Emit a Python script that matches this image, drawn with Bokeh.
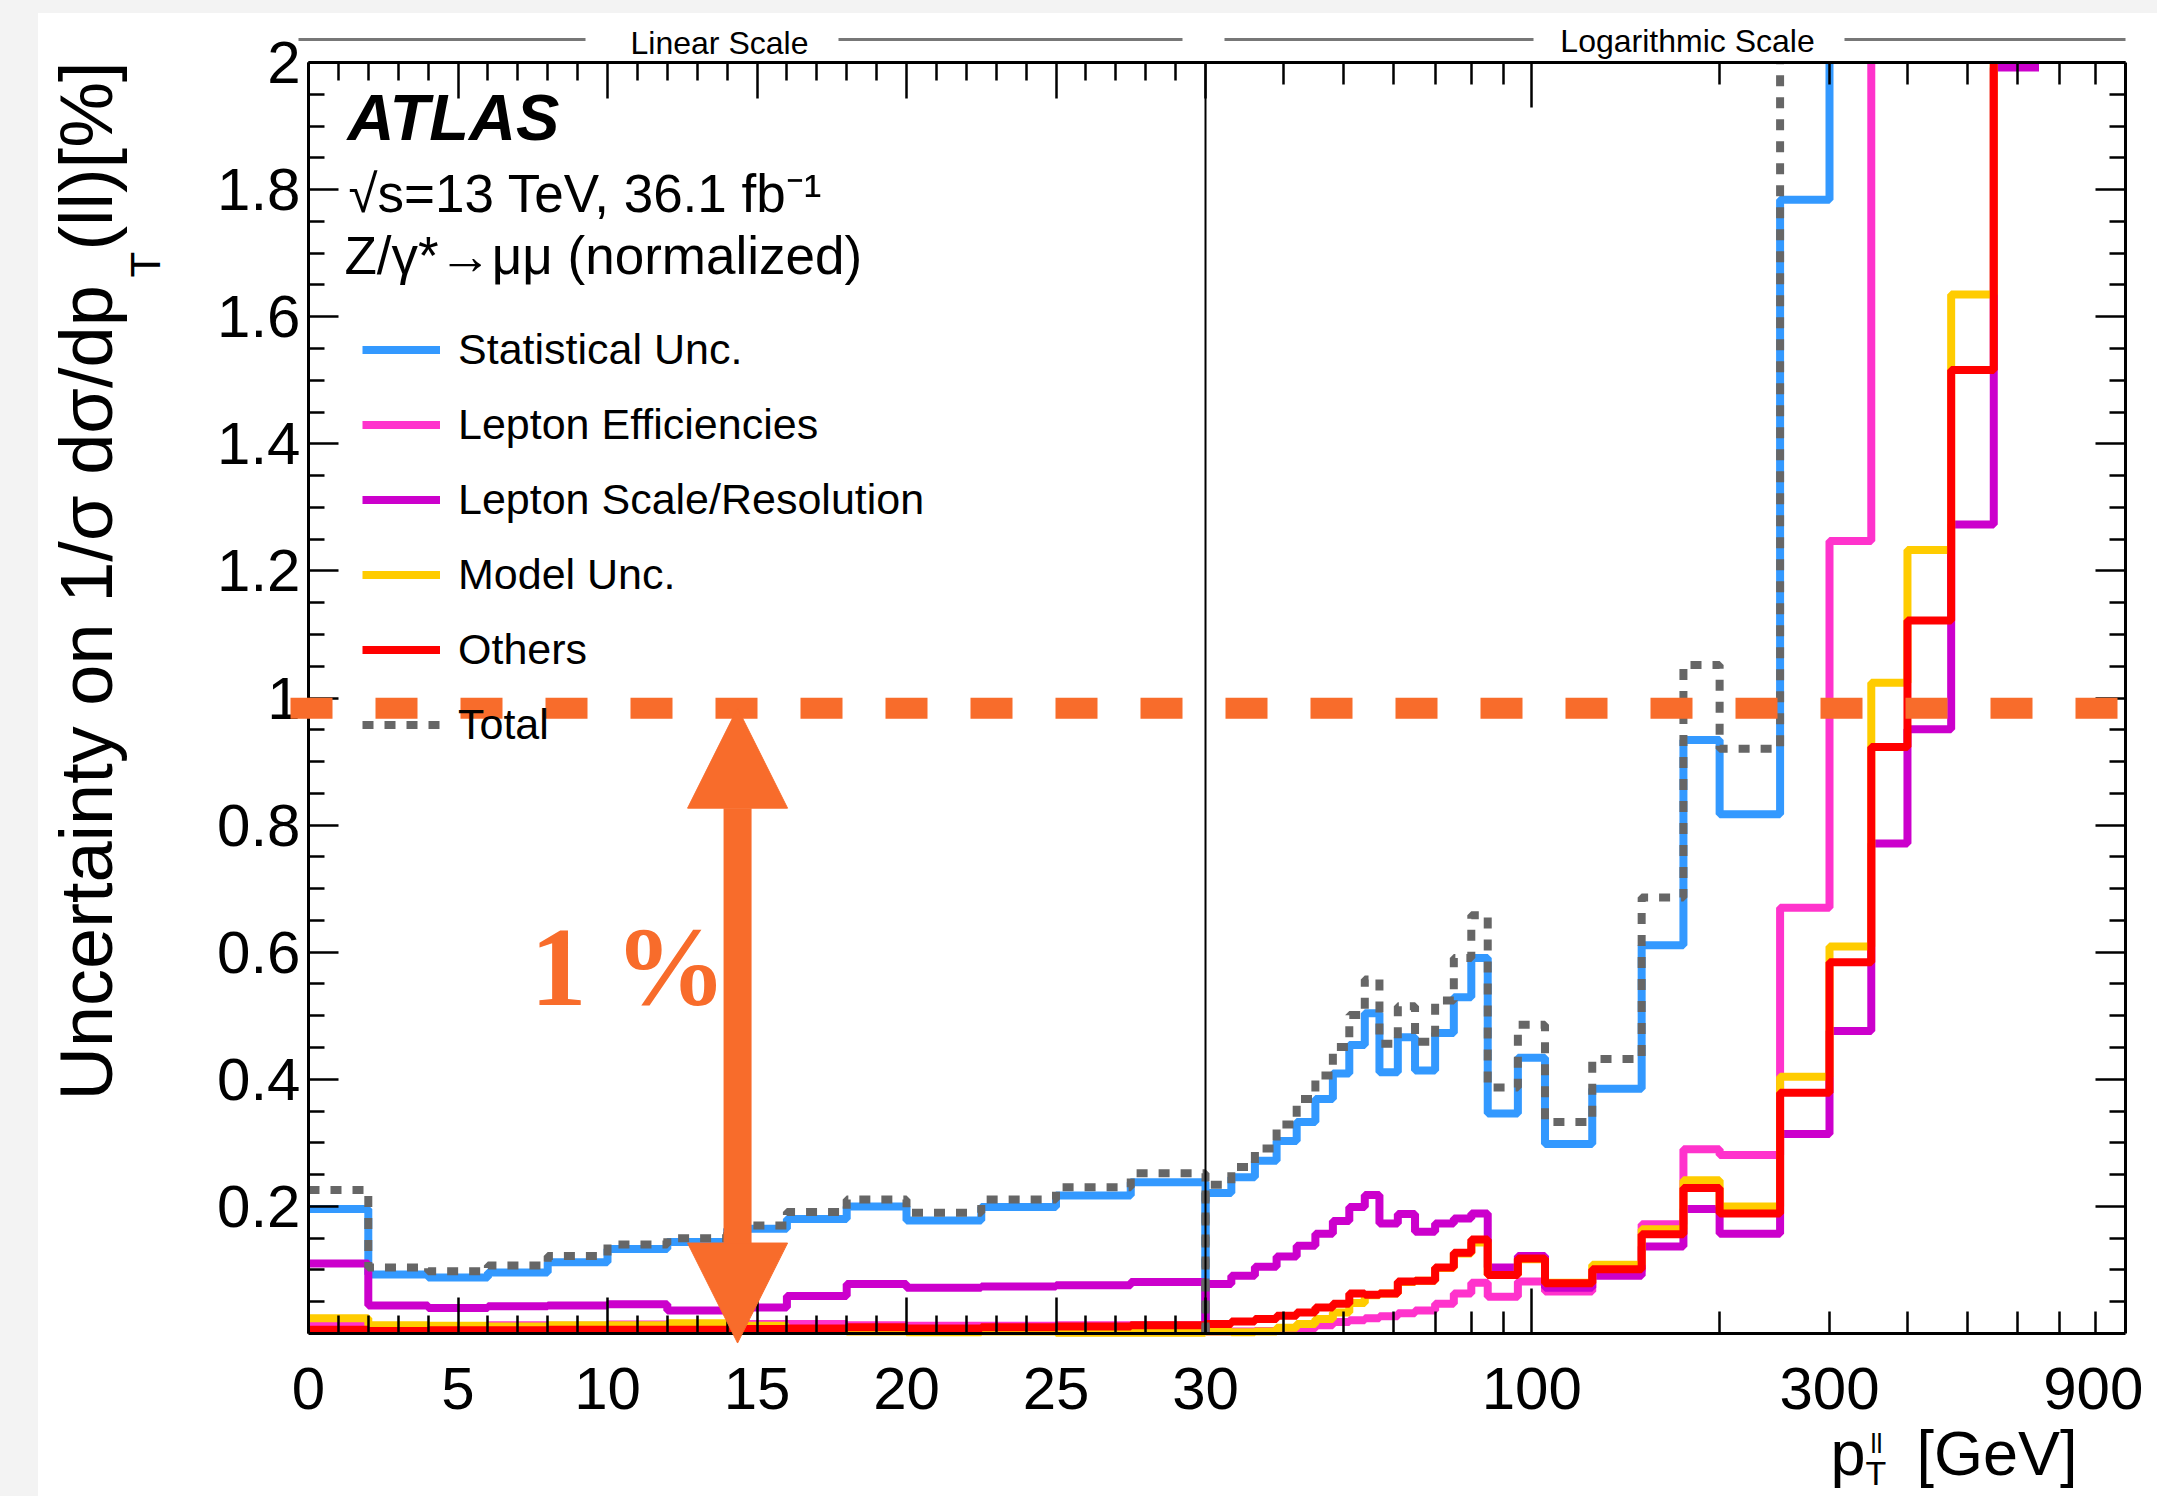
import math
from bokeh.plotting import figure
from bokeh.layouts import row, column
from bokeh.models import (Range1d, LinearAxis, LogAxis, LogScale, FixedTicker, Label,
                          Legend, LegendItem, Arrow, NormalHead, CustomJSTickFormatter,
                          BasicTickFormatter, Spacer)
from bokeh.embed import file_html
from bokeh.resources import INLINE

# ---------------- data (uncertainties in %) ----------------
lin_edges = [0, 2, 4, 6, 8, 10, 12, 14, 16, 18, 20, 22.5, 25, 27.5, 30]
log_edges = [30, 33, 36, 39, 42, 45, 48, 51, 54, 57, 61, 65, 70, 75, 80, 85, 95, 105,
             125, 150, 175, 200, 250, 300, 350, 400, 470, 550, 650]

stat_lin = [0.196, 0.093, 0.088, 0.096, 0.112, 0.133, 0.144, 0.165, 0.180, 0.200, 0.178, 0.199, 0.217, 0.238]
stat_log = [0.221, 0.246, 0.272, 0.303, 0.333, 0.369, 0.409, 0.454, 0.504, 0.411, 0.466, 0.414, 0.473, 0.529,
            0.591, 0.346, 0.434, 0.298, 0.385, 0.611, 0.934, 0.817, 1.784, 2.5, 3.1, 3.6, 4.6, 6.0]

eff_lin = [0.015, 0.011, 0.010, 0.013, 0.012, 0.014, 0.013, 0.015, 0.015, 0.013, 0.012, 0.012, 0.013, 0.013]
eff_log = [0.003, 0.003, 0.004, 0.005, 0.008, 0.013, 0.018, 0.021, 0.024, 0.027, 0.032, 0.036, 0.047, 0.063,
           0.080, 0.058, 0.082, 0.066, 0.098, 0.172, 0.290, 0.281, 0.670, 1.247, 2.3, 2.8, 3.4, 4.2]

scale_lin = [0.110, 0.044, 0.040, 0.043, 0.044, 0.046, 0.036, 0.041, 0.059, 0.078, 0.072, 0.074, 0.076, 0.081]
scale_log = [0.078, 0.091, 0.105, 0.121, 0.138, 0.157, 0.177, 0.199, 0.218, 0.173, 0.188, 0.160, 0.173, 0.181,
             0.189, 0.104, 0.122, 0.072, 0.091, 0.137, 0.196, 0.157, 0.314, 0.476, 0.771, 0.951, 1.273, 1.992]

model_lin = [0.024, 0.013, 0.012, 0.011, 0.013, 0.013, 0.016, 0.012, 0.007, 0.003, 0.002, 0.003, 0.001, 0.001]
model_log = [0.003, 0.002, 0.003, 0.009, 0.015, 0.023, 0.033, 0.048, 0.060, 0.063, 0.081, 0.083, 0.103, 0.126,
             0.143, 0.092, 0.117, 0.080, 0.108, 0.164, 0.241, 0.200, 0.404, 0.609, 1.024, 1.233, 1.635, 2.4]

other_lin = [0.006, 0.004, 0.005, 0.005, 0.006, 0.006, 0.006, 0.007, 0.008, 0.010, 0.008, 0.010, 0.011, 0.013]
other_log = [0.015, 0.019, 0.023, 0.028, 0.033, 0.041, 0.047, 0.063, 0.061, 0.063, 0.082, 0.083, 0.104, 0.127,
             0.148, 0.092, 0.118, 0.079, 0.101, 0.156, 0.229, 0.189, 0.379, 0.584, 0.923, 1.122, 1.516, 2.2]

total_lin = [0.226, 0.104, 0.098, 0.107, 0.122, 0.140, 0.150, 0.170, 0.191, 0.211, 0.190, 0.211, 0.230, 0.252]
total_log = [0.234, 0.262, 0.291, 0.329, 0.369, 0.406, 0.451, 0.501, 0.557, 0.456, 0.515, 0.459, 0.524, 0.591,
             0.658, 0.387, 0.486, 0.333, 0.432, 0.686, 1.052, 0.920, 2.1, 2.9, 3.9, 4.6, 5.8, 7.5]

series_names = ["Statistical Unc.", "Lepton Efficiencies", "Lepton Scale/Resolution",
                "Model Unc.", "Others", "Total"]

y_tick_values = [0.2, 0.4, 0.6, 0.8, 1.0, 1.2, 1.4, 1.6, 1.8, 2.0]
y_tick_labels = ["0.2", "0.4", "0.6", "0.8", "1", "1.2", "1.4", "1.6", "1.8", "2"]
lin_tick_values = [0, 5, 10, 15, 20, 25, 30]
log_label_values = [100, 300]
log_edge_label = 900
log_major_ticks = [100]
log_minor_ticks = [40, 50, 60, 70, 80, 90, 200, 300, 400, 500, 600, 700, 800]
Y_MAX = 2.0
LIN_MAX = 30.0
one_percent = 0.984   # level of the highlighted "1 %" line as drawn

# ---------------- geometry (page pixels) ----------------
PAGE_W, PAGE_H = 2157, 1496
PAD_L, PAD_T = 38, 13
FIG_W, FIG_H = PAGE_W - PAD_L, PAGE_H - PAD_T
FR_L, FR_R, FR_T, FR_B = 308, 2125, 62, 1333     # drawn frame
DIV_PX = 1205                                     # where 30 GeV sits
DECADE = 624.0                                    # pixels per decade in log part
PX_U = (DIV_PX - FR_L) / LIN_MAX
PX_V = (FR_B - FR_T) / Y_MAX
LABEL_STANDOFF = 34

def u(px):
    return (px - FR_L) / PX_U

def v(py):
    return (FR_B - py) / PX_V

u_frame_end = u(FR_R)
log_start = LIN_MAX * 10 ** ((PAD_L - DIV_PX) / DECADE)
log_end = LIN_MAX * 10 ** ((PAGE_W - DIV_PX) / DECADE)
y_draw_cap = v(PAD_T + 6)   # values beyond the canvas are drawn up to here (hidden by the mask)

FONT = "Liberation Sans"
ORANGE = "#F86C2B"
BLACK = "black"
LW = 8

p = figure(width=FIG_W, height=FIG_H, output_backend="svg", toolbar_location=None, title=None,
           x_range=Range1d(u(PAD_L), u(PAGE_W)), y_range=Range1d(v(PAGE_H), v(PAD_T)),
           x_axis_type=None, y_axis_type=None,
           min_border_left=0, min_border_right=0, min_border_top=0, min_border_bottom=0)
p.extra_x_ranges = {"log": Range1d(log_start, log_end)}
p.extra_x_scales = {"log": LogScale()}
p.outline_line_color = None
p.border_fill_color = "white"
p.background_fill_color = "white"
p.styles = {"overflow": "hidden"}

empty_fmt = CustomJSTickFormatter(code="return ''")

def style_axis(ax, tick_in, minor_in, labels, standoff=LABEL_STANDOFF, line=False):
    ax.axis_line_color = BLACK if line else None
    ax.axis_line_width = 3
    ax.major_tick_in = tick_in
    ax.major_tick_out = 0
    ax.minor_tick_in = minor_in
    ax.minor_tick_out = 0
    ax.major_tick_line_width = 2.5
    ax.minor_tick_line_width = 2.5
    ax.major_tick_line_color = BLACK
    ax.minor_tick_line_color = BLACK
    ax.major_label_text_font = FONT
    ax.major_label_text_font_size = "60px"
    ax.major_label_text_color = BLACK
    ax.major_label_standoff = standoff
    if not labels:
        ax.formatter = empty_fmt

lin_minor = [k for k in range(1, 30) if k % 5 != 0]
y_minor = [round(0.05 * k, 2) for k in range(1, 40) if k % 4 != 0]

# ---------------- histograms ----------------
series = [
    (series_names[0], stat_lin, stat_log, "#3399FF", "solid"),
    (series_names[1], eff_lin, eff_log, "#FF33CC", "solid"),
    (series_names[2], scale_lin, scale_log, "#CC00CC", "solid"),
    (series_names[3], model_lin, model_log, "#FFCC00", "solid"),
    (series_names[4], other_lin, other_log, "#FF0000", "solid"),
    (series_names[5], total_lin, total_log, "#666666", "11 11"),
]

def capped(vals):
    return [min(val, y_draw_cap) for val in vals]

legend_items = []
for name, vlin, vlog, color, dash in series:
    r1 = p.step(x=lin_edges, y=capped(vlin) + [0.0], mode="after", line_color=color,
                line_width=LW, line_dash=dash)
    p.step(x=[log_edges[0]] + log_edges, y=[0.0] + capped(vlog) + capped([vlog[-1]]), mode="after",
           line_color=color, line_width=LW, line_dash=dash, x_range_name="log")
    legend_items.append(LegendItem(label=name, renderers=[r1]))

# everything above the top of the y range is hidden, like a frame clip
p.quad(left=u(PAD_L - 20), right=u(PAGE_W + 20), bottom=Y_MAX, top=v(PAD_T - 20),
       fill_color="white", line_color=None)

# divider between linear and logarithmic parts
p.segment(x0=LIN_MAX, y0=0, x1=LIN_MAX, y1=Y_MAX, line_color=BLACK, line_width=2)

# header lines
hdr = [(298, 585), (838, 1182), (1224, 1533), (1844, 2125)]
p.segment(x0=[u(a) for a, b in hdr], x1=[u(b) for a, b in hdr], y0=[v(39)] * 4, y1=[v(39)] * 4,
          line_color="#777777", line_width=3)

# ---------------- axes ----------------
ax = LinearAxis(ticker=FixedTicker(ticks=lin_tick_values, minor_ticks=lin_minor), fixed_location=0,
                bounds=(0, u_frame_end))
style_axis(ax, 36, 18, True, line=True)
p.add_layout(ax, "below")
ax = LogAxis(x_range_name="log", ticker=FixedTicker(ticks=log_major_ticks, minor_ticks=log_minor_ticks),
             fixed_location=0)
style_axis(ax, 45, 22, False)
p.add_layout(ax, "below")
ax = LogAxis(x_range_name="log", ticker=FixedTicker(ticks=log_label_values), fixed_location=0,
             formatter=BasicTickFormatter())
style_axis(ax, 0, 0, True)
p.add_layout(ax, "below")

ax = LinearAxis(ticker=FixedTicker(ticks=lin_tick_values, minor_ticks=lin_minor), fixed_location=Y_MAX,
                bounds=(0, u_frame_end))
style_axis(ax, 36, 18, False, line=True)
p.add_layout(ax, "above")
ax = LogAxis(x_range_name="log", ticker=FixedTicker(ticks=log_major_ticks, minor_ticks=log_minor_ticks),
             fixed_location=Y_MAX)
style_axis(ax, 45, 22, False)
p.add_layout(ax, "above")

ax = LinearAxis(ticker=FixedTicker(ticks=y_tick_values, minor_ticks=y_minor), fixed_location=0,
                bounds=(0, Y_MAX))
style_axis(ax, 30, 16, True, standoff=8, line=True)
ax.major_label_overrides = dict(zip(y_tick_values, y_tick_labels))
p.add_layout(ax, "left")
ax = LinearAxis(ticker=FixedTicker(ticks=y_tick_values, minor_ticks=y_minor), fixed_location=u_frame_end,
                bounds=(0, Y_MAX))
style_axis(ax, 30, 16, False, line=True)
p.add_layout(ax, "right")

legend = Legend(items=legend_items, location=(362 - PAD_L, PAGE_H - 749), glyph_width=78, glyph_height=45,
                label_height=45, spacing=26, padding=0, margin=0, label_standoff=18,
                border_line_color=None, background_fill_alpha=0,
                label_text_font=FONT, label_text_font_size="43px", label_text_color=BLACK)
p.add_layout(legend)

# ---------------- texts ----------------
def lab(text, px, py, size, align="left", base="middle", style="normal",
        font=FONT, color=BLACK, angle=0.0):
    p.add_layout(Label(x=u(px), y=v(py), text=text, text_font=font,
                       text_font_size=size, text_font_style=style, text_align=align,
                       text_baseline=base, text_color=color, angle=angle))

lab("ATLAS", 347, 117, "65px", style="bold italic")
lab("√s=13 TeV, 36.1 fb⁻¹", 348, 193, "53px")
lab("Z/γ*→μμ (normalized)", 344, 255, "53px")

lab("Linear Scale", 719, 42, "32px", align="center")
lab("Logarithmic Scale", 1687, 40, "32px", align="center")

# log-axis end label, shifted inside the page as in the original
p.add_layout(Label(x=log_edge_label, y=0, x_range_name="log", x_offset=-34, y_offset=-LABEL_STANDOFF,
                   text=str(log_edge_label), text_font=FONT, text_font_size="60px",
                   text_align="center", text_baseline="top", text_color=BLACK))

# y title (reads bottom to top)
lab("Uncertainty on 1/σ dσ/dp", 86, 1100, "74px", align="left", angle=math.pi / 2)
lab("T", 145, 277, "42px", align="left", angle=math.pi / 2)
lab("(ll)[%]", 86, 61, "74px", align="right", angle=math.pi / 2)

# x title
lab("p", 1830, 1452, "63px")
lab("ll", 1870, 1443, "27px")
lab("T", 1865, 1472, "34px")
lab("[GeV]", 1916, 1452, "63px")

# ---------------- 1 % overlay ----------------
p.add_layout(Arrow(end=None, start=None, x_start=u(290), x_end=u(2120),
                   y_start=one_percent, y_end=one_percent, line_color=ORANGE, line_width=21,
                   line_dash="42 43"))
p.add_layout(Arrow(start=NormalHead(size=100, fill_color=ORANGE, line_color=ORANGE, line_width=1),
                   end=NormalHead(size=100, fill_color=ORANGE, line_color=ORANGE, line_width=1),
                   x_start=14.35, y_start=one_percent, x_end=14.35, y_end=-0.015,
                   line_color=ORANGE, line_width=28))
lab("1 %", 628, 966, "112px", align="center", style="bold", font="Liberation Serif", color=ORANGE)

layout = column(Spacer(width=PAGE_W, height=PAD_T, styles={"background-color": "#f3f3f3"}),
                row(Spacer(width=PAD_L, height=FIG_H, styles={"background-color": "#f3f3f3"}), p))

open("out.html", "w").write(file_html(layout, INLINE))
